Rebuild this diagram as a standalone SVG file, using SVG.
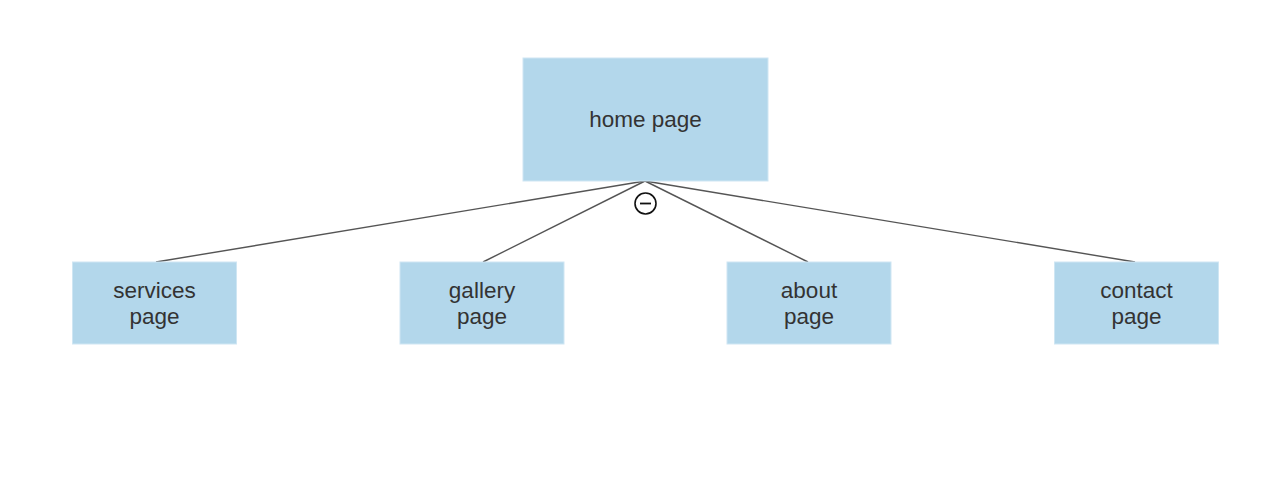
<svg xmlns="http://www.w3.org/2000/svg" width="1278" height="490" viewBox="0 0 1278 490">
<style>
.box{fill:#b3d7eb;stroke:#cfe6f3;stroke-width:1}
.lbl{font-family:"Liberation Sans",Arial,sans-serif;font-size:22.5px;fill:#333333;text-anchor:middle}
.edge{stroke:#555555;stroke-width:1.4;fill:none}
</style>
<rect width="1278" height="490" fill="#ffffff"/>
<g id="connectors">
<path class="edge" d="M645,181 L156,262"/>
<path class="edge" d="M645,181 L483,262"/>
<path class="edge" d="M645,181 L808,262"/>
<path class="edge" d="M645,181 L1135,262"/>
<circle cx="645.5" cy="203.5" r="10.5" fill="#ffffff" stroke="#111111" stroke-width="1.6"/>
<line x1="640" y1="203.5" x2="651" y2="203.5" stroke="#111111" stroke-width="1.8"/>
</g>
<g id="home">
<rect class="box" x="523" y="58" width="245" height="123"/>
<text class="lbl" x="645.5" y="127">home page</text>
</g>
<g id="services">
<rect class="box" x="72.5" y="262" width="164" height="82"/>
<text class="lbl" x="154.5" y="297.5">services</text>
<text class="lbl" x="154.5" y="323.5">page</text>
</g>
<g id="gallery">
<rect class="box" x="400" y="262" width="164" height="82"/>
<text class="lbl" x="482" y="297.5">gallery</text>
<text class="lbl" x="482" y="323.5">page</text>
</g>
<g id="about">
<rect class="box" x="727" y="262" width="164" height="82"/>
<text class="lbl" x="809" y="297.5">about</text>
<text class="lbl" x="809" y="323.5">page</text>
</g>
<g id="contact">
<rect class="box" x="1054.5" y="262" width="164" height="82"/>
<text class="lbl" x="1136.5" y="297.5">contact</text>
<text class="lbl" x="1136.5" y="323.5">page</text>
</g>
</svg>
